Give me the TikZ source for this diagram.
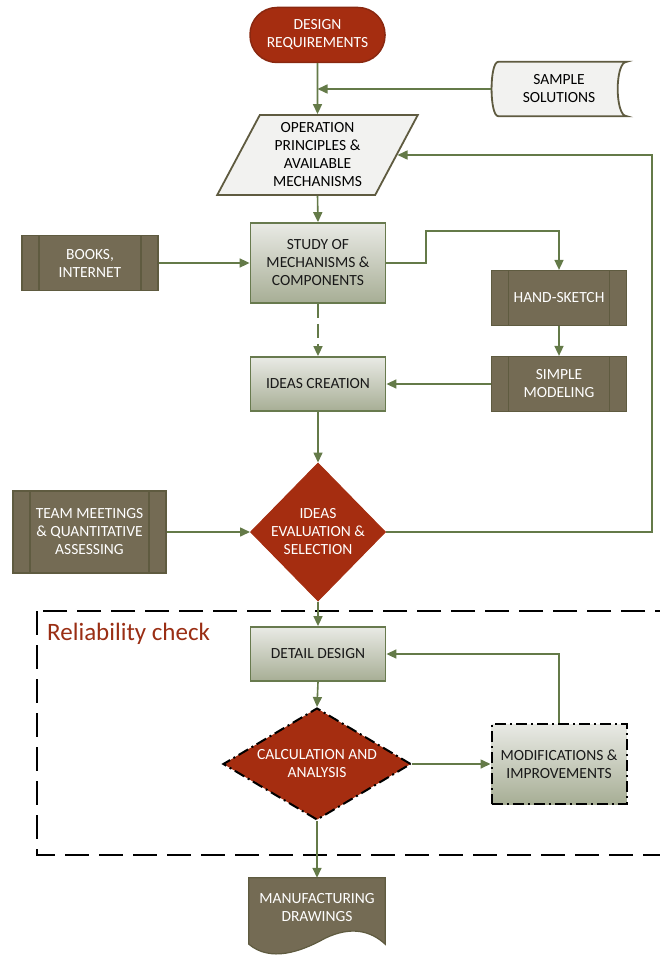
\documentclass[tikz,border=0pt]{standalone}
\usepackage{fontspec}
\setmainfont{Carlito}
\usetikzlibrary{shapes.geometric, arrows.meta}

\definecolor{flowred}{HTML}{A52D10}
\definecolor{redline}{HTML}{8A2810}
\definecolor{relred}{HTML}{9A2E14}
\definecolor{olivefill}{HTML}{746B54}
\definecolor{oliveline}{HTML}{5F5B40}
\definecolor{arrowgreen}{HTML}{647A48}
\definecolor{paper}{HTML}{F2F2F0}
\definecolor{gradtop}{HTML}{E9EAE5}
\definecolor{gradbot}{HTML}{A7AE95}
\definecolor{boxline}{HTML}{687A4E}

\begin{document}
\begin{tikzpicture}[x=1pt, y=-1pt,
  every node/.style={font=\fontsize{15.5}{18}\selectfont, align=center, inner sep=2pt},
  terminal/.style={rectangle, rounded corners=27pt, fill=flowred, draw=redline, line width=1.5pt,
    text=white, minimum width=135pt, minimum height=55pt},
  datashape/.style={rectangle, minimum width=135pt, minimum height=54pt},
  outline/.style={fill=paper, draw=oliveline, line width=1.8pt},
  iobox/.style={trapezium, trapezium left angle=62.9, trapezium right angle=117.1,
    trapezium stretches=true, fill=paper, draw=oliveline, line width=1.8pt,
    minimum width=201pt, minimum height=80pt, inner sep=0pt},
  process/.style={rectangle, top color=gradtop, bottom color=gradbot, draw=boxline,
    line width=1.8pt, text=black!90, minimum width=135pt},
  predef/.style={rectangle, fill=olivefill, draw=oliveline, line width=1.2pt, text=white,
    path picture={
      \draw[oliveline, line width=1.2pt]
        ([xshift=17pt]path picture bounding box.north west) -- ([xshift=17pt]path picture bounding box.south west)
        ([xshift=-17pt]path picture bounding box.north east) -- ([xshift=-17pt]path picture bounding box.south east);
    }},
  decision/.style={diamond, fill=flowred, draw=flowred, line width=1pt, text=white, inner sep=-6pt},
  dashdot/.style={draw=black, line width=2pt, dash pattern=on 11pt off 4pt on 2pt off 4pt},
  arrow/.style={draw=arrowgreen, line width=1.6pt, -{Triangle[length=10pt,width=9pt]}},
  frame/.style={draw=black, line width=2.5pt, dash pattern=on 24pt off 10pt}
]
  \useasboundingbox (0,0) rectangle (659,957);

  \draw[frame] (37,611) rectangle (675,855);
  \node[anchor=west, text=relred, font=\fontsize{25}{30}\selectfont] (relcheck) at (45,634) {Reliability check};

  \node[terminal] (req) at (317.5,35) {DESIGN\\REQUIREMENTS};

  \node[datashape] (sample) at (559,89) {};
  \draw[outline] ([xshift=7pt]sample.north west) -- (sample.north east)
    .. controls ([xshift=-12pt]sample.north east) and ([xshift=-12pt]sample.south east) .. (sample.south east)
    -- ([xshift=7pt]sample.south west)
    .. controls ([xshift=-2pt]sample.south west) and ([xshift=-2pt]sample.north west) .. cycle;
  \node at (sample.center) {SAMPLE\\SOLUTIONS};

  \node[iobox] (op) at (317.5,155) {OPERATION\\PRINCIPLES \&\\AVAILABLE\\MECHANISMS};

  \node[process, minimum height=80pt] (study) at (318,263) {STUDY OF\\MECHANISMS \&\\COMPONENTS};
  \node[predef, minimum width=136pt, minimum height=55pt] (books) at (90,263) {BOOKS,\\INTERNET};
  \node[predef, minimum width=135pt, minimum height=55pt] (hand) at (559,298) {HAND-SKETCH};
  \node[predef, minimum width=135pt, minimum height=55pt] (simple) at (559,384) {SIMPLE\\MODELING};
  \node[process, minimum height=54pt] (ideas) at (318,384) {IDEAS CREATION};

  \node[decision, minimum width=135pt, minimum height=138pt] (eval) at (318,532) {IDEAS\\EVALUATION \&\\SELECTION};
  \node[predef, minimum width=153pt, minimum height=82pt] (team) at (89.5,532) {TEAM MEETINGS\\\& QUANTITATIVE\\ASSESSING};

  \node[process, minimum height=54pt] (detail) at (318,654) {DETAIL DESIGN};
  \node[decision, dashdot, minimum width=188pt, minimum height=112pt, inner sep=-12pt] (calc) at (317,764) {CALCULATION AND\\ANALYSIS};
  \node[process, dashdot, minimum height=80pt] (mods) at (559,764) {MODIFICATIONS \&\\IMPROVEMENTS};

  \node[datashape, minimum width=136pt, minimum height=66pt] (mfg) at (317,911) {};
  \draw[fill=olivefill, draw=oliveline, line width=1.2pt] (mfg.north west) -- (mfg.north east) -- (mfg.south east)
    .. controls ([shift={(-15,-14)}]mfg.south east) and ([shift={(-35,-18)}]mfg.south east) .. ([shift={(-60,-6)}]mfg.south east)
    .. controls ([shift={(-85,8)}]mfg.south east) and ([shift={(-115,18)}]mfg.south east) .. (mfg.south west) -- cycle;
  \node[text=white] at ([yshift=3pt]mfg.center) {MANUFACTURING\\DRAWINGS};

  \coordinate (bend) at (426,231);
  \coordinate (fbcorner) at (652,155);

  \draw[arrow] (req.south) -- (op.north);
  \draw[arrow] (sample.west) -- (sample.west -| req.south);
  \draw[arrow] (op.south) -- (study.north);
  \draw[arrow] (books.east) -- (study.west);
  \draw[arrow] (study.east) -| (bend) -| (hand.north);
  \draw[arrow] (hand.south) -- (simple.north);
  \draw[arrow, dash pattern=on 14pt off 6pt] (study.south) -- (ideas.north);
  \draw[arrow] (simple.west) -- (ideas.east);
  \draw[arrow] (ideas.south) -- (eval.north);
  \draw[arrow] (team.east) -- (eval.west);
  \draw[arrow] (eval.east) -| (fbcorner) -- (op.east);
  \draw[arrow] (eval.south) -- (detail.north);
  \draw[arrow] (detail.south) -- (calc.north);
  \draw[arrow] (calc.east) -- (mods.west);
  \draw[arrow] (mods.north) |- (detail.east);
  \draw[arrow] (calc.south) -- (mfg.north);
\end{tikzpicture}
\end{document}
